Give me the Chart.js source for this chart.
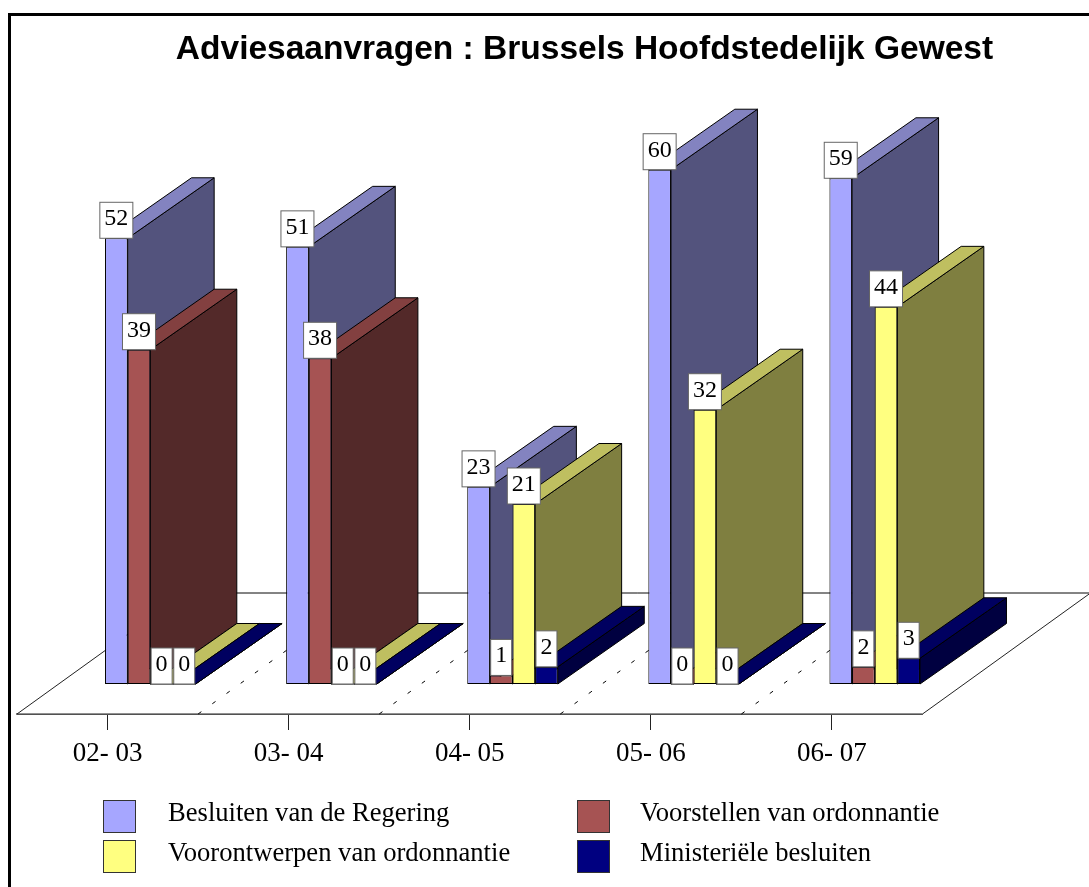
<!DOCTYPE html>
<html>
<head>
<meta charset="utf-8">
<title>Adviesaanvragen</title>
<script src="https://cdn.jsdelivr.net/npm/chart.js@4"></script>
<style>
  html, body { margin: 0; padding: 0; background: #fff; overflow: hidden; }
  canvas { display: block; }
</style>
</head>
<body>
<canvas id="chart" width="1089" height="887"></canvas>
<script>
const titleText = 'Adviesaanvragen : Brussels Hoofdstedelijk Gewest';
const categories = ['02- 03', '03- 04', '04- 05', '05- 06', '06- 07'];
const seriesNames = ['Besluiten van de Regering', 'Voorstellen van ordonnantie', 'Voorontwerpen van ordonnantie', 'Ministeriële besluiten'];
const besluiten = [52, 51, 23, 60, 59];
const voorstellen = [39, 38, 1, 0, 2];
const voorontwerpen = [0, 0, 21, 32, 44];
const ministerieel = [0, 0, 2, 0, 3];

const frontColors = ['#a6a6ff', '#a65353', '#ffff80', '#000080'];
const topColors = ['#8383c0', '#834040', '#bfbf60', '#000060'];
const sideColors = ['#53537d', '#532929', '#7f7f40', '#000040'];

const serif = '"Liberation Serif", serif';

// the bars stand further back on the floor than the floor's front edge
const shiftX = 42.75, shiftY = 30;
const barDepthX = 86.5, barDepthY = 60.5;
const floorDepthX = 168, floorDepthY = 121;

const poly = (ctx, pts, fill, stroke) => {
  ctx.beginPath();
  pts.forEach((p, i) => i ? ctx.lineTo(p[0], p[1]) : ctx.moveTo(p[0], p[1]));
  ctx.closePath();
  if (fill) { ctx.fillStyle = fill; ctx.fill(); }
  if (stroke) { ctx.strokeStyle = stroke; ctx.lineWidth = 1; ctx.stroke(); }
};

const drawFloor = (chart) => {
  const ctx = chart.ctx, a = chart.chartArea, x = chart.scales.x;
  ctx.save();
  poly(ctx, [[a.left, a.bottom], [a.right, a.bottom], [a.right + floorDepthX, a.bottom - floorDepthY], [a.left + floorDepthX, a.bottom - floorDepthY]], '#fff', '#222');
  ctx.beginPath();
  ctx.strokeStyle = '#777';
  ctx.moveTo(a.left + floorDepthX, a.bottom - floorDepthY);
  ctx.lineTo(a.right + floorDepthX, a.bottom - floorDepthY);
  ctx.stroke();
  // dashed lines between the categories
  ctx.strokeStyle = '#000';
  ctx.setLineDash([4, 13.5]);
  for (let i = 0; i < categories.length - 1; i++) {
    const bx = (x.getPixelForValue(i) + x.getPixelForValue(i + 1)) / 2;
    ctx.beginPath();
    ctx.moveTo(bx, a.bottom);
    ctx.lineTo(bx + floorDepthX, a.bottom - floorDepthY);
    ctx.stroke();
  }
  ctx.restore();
};

const drawDepth = (chart) => {
  const ctx = chart.ctx;
  chart.data.datasets.forEach((ds, d) => {
    chart.getDatasetMeta(d).data.forEach((el) => {
      const x0 = el.x - el.width / 2, x1 = el.x + el.width / 2;
      poly(ctx, [[x1, el.y], [x1 + barDepthX, el.y - barDepthY], [x1 + barDepthX, el.base - barDepthY], [x1, el.base]], sideColors[d], '#000');
      poly(ctx, [[x0, el.y], [x1, el.y], [x1 + barDepthX, el.y - barDepthY], [x0 + barDepthX, el.y - barDepthY]], topColors[d], '#000');
    });
  });
};

const drawValueBoxes = (chart) => {
  const ctx = chart.ctx;
  ctx.save();
  ctx.font = '24px ' + serif;
  ctx.textAlign = 'center';
  ctx.textBaseline = 'middle';
  chart.data.datasets.forEach((ds, d) => {
    chart.getDatasetMeta(d).data.forEach((el, i) => {
      const txt = String(ds.data[i]);
      const w = txt.length > 1 ? 33 : 21, h = 36;
      ctx.fillStyle = '#fff';
      ctx.fillRect(el.x - w / 2, el.y - h, w, h);
      ctx.strokeStyle = '#666';
      ctx.lineWidth = 1;
      ctx.strokeRect(el.x - w / 2, el.y - h, w, h);
      ctx.fillStyle = '#000';
      ctx.fillText(txt, el.x, el.y - h / 2 - 1.5);
    });
  });
  ctx.restore();
};

const drawLegend = (chart) => {
  const ctx = chart.ctx;
  const colX = [103.5, 577.5], textX = [168, 640], rowY = [800.5, 840.5];
  ctx.save();
  ctx.font = '26.6px ' + serif;
  ctx.textBaseline = 'middle';
  seriesNames.forEach((name, i) => {
    const x = colX[i % 2], y = rowY[Math.floor(i / 2)];
    ctx.fillStyle = frontColors[i];
    ctx.fillRect(x, y, 32, 32);
    ctx.strokeStyle = '#333';
    ctx.lineWidth = 1;
    ctx.strokeRect(x, y, 32, 32);
    ctx.fillStyle = '#000';
    ctx.fillText(name, textX[i % 2], y + 14);
  });
  ctx.restore();
};

const pseudo3d = {
  id: 'pseudo3d',
  afterLayout(chart) {
    // title sits off the canvas centre
    chart.titleBlock.left = 0;
    chart.titleBlock.right = 1169;
  },
  beforeDraw(chart) {
    const ctx = chart.ctx;
    ctx.save();
    ctx.fillStyle = '#fff';
    ctx.fillRect(0, 0, chart.width, chart.height);
    ctx.fillStyle = '#000';
    ctx.fillRect(8, 13, 3, chart.height - 13);
    ctx.fillRect(8, 13, chart.width - 8, 3);
    ctx.restore();
  },
  beforeDatasetsDraw(chart) {
    drawFloor(chart);
    chart.ctx.save();
    chart.ctx.translate(shiftX, -shiftY);
    drawDepth(chart);
  },
  afterDatasetsDraw(chart) {
    drawValueBoxes(chart);
    chart.ctx.restore();
  },
  afterDraw(chart) {
    drawLegend(chart);
  }
};

new Chart(document.getElementById('chart'), {
  type: 'bar',
  data: {
    labels: categories,
    datasets: [besluiten, voorstellen, voorontwerpen, ministerieel].map((values, i) => ({
      label: seriesNames[i],
      data: values,
      backgroundColor: frontColors[i],
      borderColor: '#000',
      borderWidth: 1,
      borderSkipped: false,
      inflateAmount: 0,
      categoryPercentage: 0.5,
      barPercentage: 1,
      clip: false
    }))
  },
  options: {
    responsive: false,
    animation: false,
    layout: { padding: { left: 17, right: 166.5, top: 0, bottom: 0 } },
    plugins: {
      legend: { display: false },
      tooltip: { enabled: false },
      title: {
        display: true,
        text: titleText,
        color: '#000',
        font: { family: '"Liberation Sans", sans-serif', size: 33.5, weight: 'bold', lineHeight: 1.2 },
        padding: { top: 30, bottom: 43.8 }
      }
    },
    scales: {
      x: {
        afterFit: (scale) => { scale.height = 173; },
        border: { color: '#808080', width: 2 },
        grid: { offset: false, drawOnChartArea: false, drawTicks: true, tickLength: 16, tickColor: '#222', tickWidth: 1 },
        ticks: { color: '#000', padding: 8, maxRotation: 0, autoSkip: false, font: { family: serif, size: 27 } }
      },
      y: { display: false, min: 0, max: 70 }
    }
  },
  plugins: [pseudo3d]
});
</script>
</body>
</html>
